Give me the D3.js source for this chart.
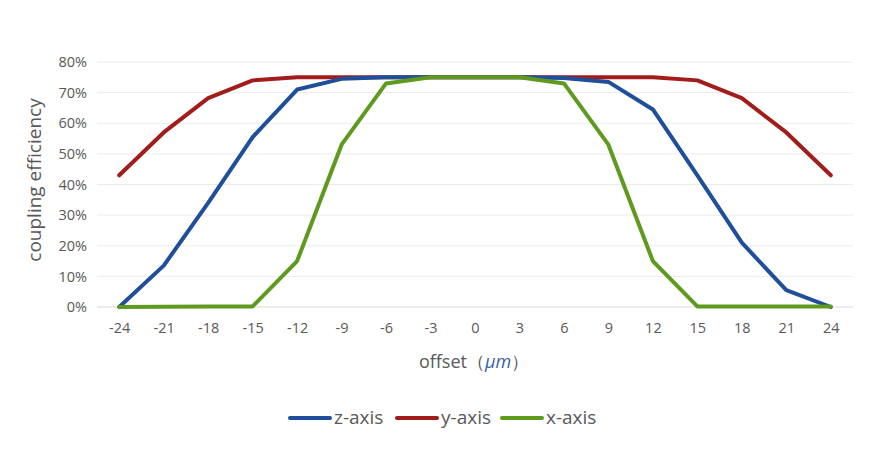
<!DOCTYPE html>
<html><head><meta charset="utf-8">
<script src="https://cdn.jsdelivr.net/npm/d3@7"></script>
<style>body{margin:0;background:#fff;} text{font-family:"Open Sans","Noto Sans",sans-serif;}</style>
</head><body><svg id="c" width="876" height="468"></svg>
<script>
const categories = ["-24","-21","-18","-15","-12","-9","-6","-3","0","3","6","9","12","15","18","21","24"];
const zAxis = [0, 13.5, 34, 55.5, 71, 74.5, 75, 75, 75, 75, 74.8, 73.5, 64.5, 43, 21, 5.5, 0];
const yAxis = [43, 57, 68.2, 74, 75, 75, 75, 75, 75, 75, 75, 75, 75, 74, 68.2, 57, 43];
const xAxis = [0, 0.1, 0.2, 0.2, 15, 53, 73, 75, 75, 75, 73, 53, 15, 0.2, 0.2, 0.2, 0.2];
const yTicks = [0, 10, 20, 30, 40, 50, 60, 70, 80];
const seriesNames = ["z-axis", "y-axis", "x-axis"];
const colors = ["#1f4e9a", "#a31c1c", "#5e9a1e"];

(function(){
const svg = d3.select("#c");
const mL = 97, mR = 853, mT = 62, mB = 307;
const x = d3.scalePoint().domain(categories).range([mL, mR]).padding(0.5);
const y = d3.scaleLinear().domain([0, 80]).range([mB, mT]);

svg.append("g").selectAll("line").data(yTicks).join("line")
  .attr("x1", mL).attr("x2", mR)
  .attr("y1", d => y(d)).attr("y2", d => y(d))
  .attr("stroke", d => d === 0 ? "#d9d9d9" : "#ececec").attr("stroke-width", 1);

const ya = svg.append("g").attr("transform", `translate(${mL},0)`)
  .call(d3.axisLeft(y).tickValues(yTicks).tickFormat(d => d + "%").tickSize(0).tickPadding(10));
ya.select(".domain").remove();
ya.selectAll("text").attr("fill", "#595959").style("font-size", "14.5px");

const xa = svg.append("g").attr("transform", `translate(0,${mB})`)
  .call(d3.axisBottom(x).tickSize(0).tickPadding(16));
xa.select(".domain").remove();
xa.selectAll("text").attr("fill", "#595959").style("font-size", "14.5px");

svg.append("text").attr("transform", "translate(41,180) rotate(-90)")
  .attr("text-anchor", "middle").attr("fill", "#595959").style("font-size", "19px")
  .text("coupling efficiency");
const xt = svg.append("text").attr("x", 474).attr("y", 368).attr("text-anchor", "middle")
  .attr("fill", "#595959").style("font-size", "18px");
xt.append("tspan").text("offset（");
xt.append("tspan").attr("font-style", "italic").attr("fill", "#3b5fa8").text("μm");
xt.append("tspan").text("）");

const allSeries = [zAxis, yAxis, xAxis];
const line = d3.line().x((d, i) => x(categories[i])).y(d => y(d));
[1, 0, 2].forEach(k => {
  svg.append("path").datum(allSeries[k]).attr("d", line)
    .attr("fill", "none").attr("stroke", colors[k]).attr("stroke-width", 4)
    .attr("stroke-linejoin", "round").attr("stroke-linecap", "round");
});

const lg = svg.append("g");
const lx = [290, 397, 502];
seriesNames.forEach((n, i) => {
  lg.append("line").attr("x1", lx[i]).attr("x2", lx[i] + 40).attr("y1", 418).attr("y2", 418)
    .attr("stroke", colors[i]).attr("stroke-width", 4).attr("stroke-linecap", "round");
  lg.append("text").attr("x", lx[i] + 44).attr("y", 424).attr("fill", "#595959")
    .style("font-size", "19px").text(n);
});
})();
</script></body></html>
